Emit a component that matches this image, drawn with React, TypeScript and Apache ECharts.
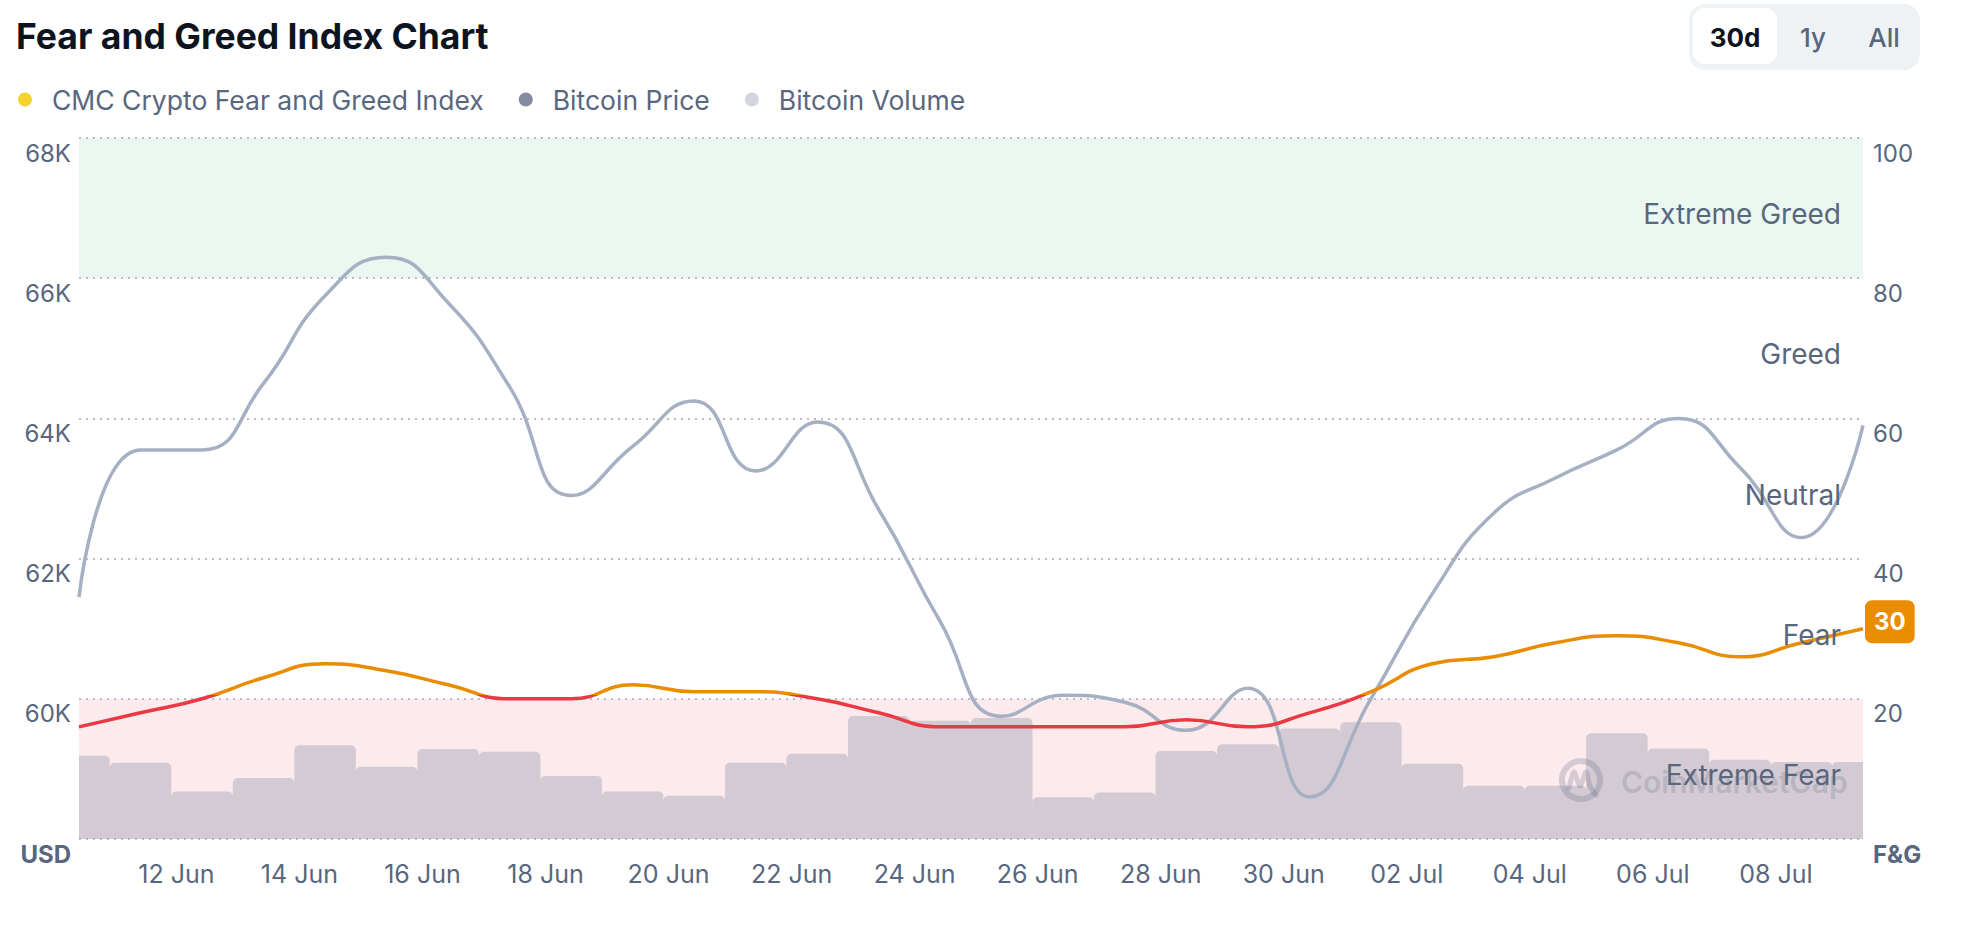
import React, { useEffect, useRef } from 'react';
import * as echarts from 'echarts';

const DATES = [
  '2024-06-10', '2024-06-11', '2024-06-12', '2024-06-13', '2024-06-14', '2024-06-15',
  '2024-06-16', '2024-06-17', '2024-06-18', '2024-06-19', '2024-06-20', '2024-06-21',
  '2024-06-22', '2024-06-23', '2024-06-24', '2024-06-25', '2024-06-26', '2024-06-27',
  '2024-06-28', '2024-06-29', '2024-06-30', '2024-07-01', '2024-07-02', '2024-07-03',
  '2024-07-04', '2024-07-05', '2024-07-06', '2024-07-07', '2024-07-08', '2024-07-09',
];

const FEAR_GREED = [
  16, 18, 20, 23, 25, 24, 22, 20, 20, 22, 21, 21, 20, 18, 16,
  16, 16, 16, 17, 16, 18, 21, 25, 26, 28, 29, 28, 26, 28, 30,
];

const BTC_PRICE = [
  61450, 63550, 63550, 64500, 65750, 66300, 65650, 64450, 62900, 63600,
  64250, 63250, 63950, 62700, 61100, 59750, 60050, 59950, 59550, 60150,
  58600, 60000, 61500, 62650, 63150, 63550, 64000, 63300, 62300, 63900,
];

// billions USD
const BTC_VOLUME = [
  28.5, 26.1, 16.3, 20.9, 32.1, 24.7, 30.8, 29.9, 21.6, 16.3,
  14.8, 26.1, 29.2, 42.1, 40.5, 41.4, 14.3, 15.9, 30.1, 32.4,
  37.8, 40.0, 25.8, 18.2, 18.2, 36.2, 31.0, 27.1, 26.4, 26.4,
];

const X_LABEL_DATES = [
  '2024-06-12', '2024-06-14', '2024-06-16', '2024-06-18', '2024-06-20', '2024-06-22',
  '2024-06-24', '2024-06-26', '2024-06-28', '2024-06-30', '2024-07-02', '2024-07-04',
  '2024-07-06', '2024-07-08',
];

const ZONE_NAMES = ['Extreme Fear', 'Fear', 'Neutral', 'Greed', 'Extreme Greed'];
const ZONE_FROM = [0, 20, 40, 60, 80];
const ZONE_TO = [20, 40, 60, 80, 100];

const LEGEND_NAMES = ['CMC Crypto Fear and Greed Index', 'Bitcoin Price', 'Bitcoin Volume'];
const BUTTONS = ['30d', '1y', 'All'];

const MONTHS = ['Jan', 'Feb', 'Mar', 'Apr', 'May', 'Jun', 'Jul', 'Aug', 'Sep', 'Oct', 'Nov', 'Dec'];

const TEXT = '#58667e';
const FONT = 'Inter';

export default function App() {
  const ref = useRef<HTMLDivElement>(null);

  useEffect(() => {
    if (!ref.current) return;
    const chart = echarts.init(ref.current, null, { renderer: 'svg' });

    const ts = DATES.map((d) => Date.parse(d + 'T10:00:00Z'));
    const labelTs = X_LABEL_DATES.map((d) => Date.parse(d + 'T00:00:00Z'));
    const step = ts[1] - ts[0];
    const fmtDate = (v: number) => {
      const d = new Date(v);
      return String(d.getUTCDate()).padStart(2, '0') + ' ' + MONTHS[d.getUTCMonth()];
    };
    const lastTs = ts[ts.length - 1];

    const renderVolume = (params: any, api: any) => {
      const x = api.value(0);
      const v = api.value(1);
      const top = api.coord([x, v]);
      const base = api.coord([x, 0]);
      const w = api.size([step, 0])[0];
      const cs = params.coordSys;
      let x0 = top[0] - w / 2;
      let x1 = top[0] + w / 2;
      const left = cs.x;
      const right = cs.x + cs.width;
      const clippedL = x0 < left;
      const clippedR = x1 > right;
      x0 = Math.max(x0, left);
      x1 = Math.min(x1, right);
      return {
        type: 'rect',
        shape: {
          x: x0,
          y: top[1],
          width: x1 - x0,
          height: base[1] - top[1],
          r: [clippedL ? 0 : 5, clippedR ? 0 : 5, 0, 0],
        },
        style: { fill: 'rgba(133,140,162,0.34)' },
      };
    };

    const option: any = {
      animation: false,
      textStyle: { fontFamily: FONT },
      title: {
        text: 'Fear and Greed Index Chart',
        left: 16,
        top: 18,
        padding: 0,
        textStyle: { fontSize: 35.5, fontWeight: 700, color: '#0d1421', fontFamily: FONT },
      },
      legend: {
        left: 13,
        top: 81,
        icon: 'circle',
        itemWidth: 14,
        itemHeight: 14,
        itemGap: 35,
        selectedMode: false,
        textStyle: { fontSize: 26.5, color: TEXT, fontFamily: FONT, padding: [0, 0, 0, 15] },
        data: [
          { name: LEGEND_NAMES[0], itemStyle: { color: '#f3d42f' } },
          { name: LEGEND_NAMES[1], itemStyle: { color: '#858ca2' } },
          { name: LEGEND_NAMES[2], itemStyle: { color: '#d1d5e0' } },
        ],
      },
      grid: { left: 79, right: 101, top: 138, bottom: 95, outerBoundsMode: 'none' },
      xAxis: {
        type: 'value',
        min: ts[0],
        max: lastTs,
        axisLine: { show: false },
        axisTick: { show: false },
        splitLine: { show: false },
        axisLabel: {
          customValues: labelTs,
          formatter: fmtDate,
          color: TEXT,
          fontSize: 25,
          margin: 22,
          fontFamily: FONT,
          hideOverlap: false,
        },
      },
      yAxis: [
        {
          type: 'value',
          position: 'left',
          min: 58000,
          max: 68000,
          interval: 2000,
          z: 1.5,
          axisLine: { show: false },
          axisTick: { show: false },
          splitLine: { show: true, lineStyle: { color: '#b9bec8', type: [2, 5], width: 2 } },
          axisLabel: {
            formatter: (v: number) => (v === 58000 ? '{b|USD}' : v / 1000 + 'K'),
            color: TEXT,
            fontSize: 24,
            fontFamily: FONT,
            verticalAlign: 'top',
            margin: 8,
            padding: [3, 0, 0, 0],
            rich: { b: { fontWeight: 700, fontSize: 24, color: TEXT, fontFamily: FONT } },
          },
        },
        {
          type: 'value',
          position: 'right',
          min: 0,
          max: 100,
          interval: 20,
          axisLine: { show: false },
          axisTick: { show: false },
          splitLine: { show: false },
          axisLabel: {
            formatter: (v: number) => (v === 0 ? '{b|F&G}' : String(v)),
            color: TEXT,
            fontSize: 24,
            fontFamily: FONT,
            verticalAlign: 'top',
            margin: 10,
            padding: [3, 0, 0, 0],
            rich: { b: { fontWeight: 700, fontSize: 24, color: TEXT, fontFamily: FONT } },
          },
        },
        { type: 'value', min: 0, max: 240, show: false },
      ],
      visualMap: {
        type: 'piecewise',
        show: false,
        seriesIndex: 2,
        dimension: 1,
        pieces: [
          { lt: 20.5, color: '#ea3943' },
          { gte: 20.5, lt: 40.5, color: '#ea8c00' },
          { gte: 40.5, lt: 60.5, color: '#f3d42f' },
          { gte: 60.5, lt: 80.5, color: '#93d900' },
          { gte: 80.5, color: '#16c784' },
        ],
      },
      series: [
        {
          name: LEGEND_NAMES[2],
          type: 'custom',
          yAxisIndex: 2,
          data: ts.map((t, i) => [t, BTC_VOLUME[i]]),
          renderItem: renderVolume,
          encode: { x: 0, y: 1 },
          clip: true,
          itemStyle: { color: 'rgba(133,140,162,0.34)' },
          z: 2,
          silent: true,
        },
        {
          name: LEGEND_NAMES[1],
          type: 'line',
          yAxisIndex: 0,
          data: ts.map((t, i) => [t, BTC_PRICE[i]]),
          smooth: 0.5,
          showSymbol: false,
          lineStyle: { color: '#a6b0c3', width: 3.5 },
          itemStyle: { color: '#a6b0c3' },
          z: 3,
          silent: true,
        },
        {
          name: LEGEND_NAMES[0],
          type: 'line',
          yAxisIndex: 1,
          data: ts.map((t, i) => [t, FEAR_GREED[i]]),
          smooth: 0.5,
          showSymbol: false,
          lineStyle: { width: 3.5 },
          z: 4,
          silent: true,
          endLabel: {
            show: true,
            formatter: (p: any) => String(p.value[1]),
            distance: 2,
            offset: [0, -7],
            backgroundColor: '#ea8c00',
            color: '#ffffff',
            fontWeight: 700,
            fontSize: 24,
            fontFamily: FONT,
            padding: [10, 9, 9, 9],
            borderRadius: 7,
          },
          markArea: {
            silent: true,
            z: 1,
            data: [
              [{ yAxis: ZONE_FROM[0], itemStyle: { color: '#fdeaed' } }, { yAxis: ZONE_TO[0] }],
              [{ yAxis: ZONE_FROM[4], itemStyle: { color: '#eaf8f1' } }, { yAxis: ZONE_TO[4] }],
            ],
          },
          markPoint: {
            silent: true,
            z: 6,
            symbol: 'circle',
            symbolSize: 0,
            label: {
              show: true,
              position: 'left',
              distance: 22,
              offset: [0, 6],
              formatter: '{b}',
              color: TEXT,
              fontSize: 28,
              fontFamily: FONT,
            },
            data: ZONE_NAMES.map((n, i) => ({
              name: n,
              coord: [lastTs, (ZONE_FROM[i] + ZONE_TO[i]) / 2],
            })),
          },
        },
      ],
      graphic: [
        { type: 'rect', z: 10, shape: { x: 1689, y: 4, width: 231, height: 66, r: 16 }, style: { fill: '#eff2f5' } },
        { type: 'rect', z: 11, shape: { x: 1693, y: 8, width: 84, height: 56, r: 12 }, style: { fill: '#ffffff' } },
        { type: 'text', z: 12, x: 1735, y: 37, style: { text: BUTTONS[0], fill: '#0d1421', fontSize: 26, fontWeight: 700, fontFamily: FONT, align: 'center', verticalAlign: 'middle' } },
        { type: 'text', z: 12, x: 1813, y: 37, style: { text: BUTTONS[1], fill: TEXT, fontSize: 26, fontWeight: 500, fontFamily: FONT, align: 'center', verticalAlign: 'middle' } },
        { type: 'text', z: 12, x: 1884, y: 37, style: { text: BUTTONS[2], fill: TEXT, fontSize: 26, fontWeight: 500, fontFamily: FONT, align: 'center', verticalAlign: 'middle' } },
        {
          type: 'arc', z: 3, silent: true,
          shape: { cx: 1581, cy: 780, r: 19, startAngle: 0.9, endAngle: 6.95, clockwise: true },
          style: { stroke: 'rgba(88,102,126,0.24)', lineWidth: 6, fill: 'none', lineCap: 'round' },
        },
        {
          type: 'polyline', z: 3, silent: true,
          shape: { points: [[1569, 788], [1574, 772], [1580, 786], [1586, 772], [1590, 786], [1596, 795]], smooth: 0.3 },
          style: { stroke: 'rgba(88,102,126,0.24)', lineWidth: 5, fill: 'none', lineCap: 'round', lineJoin: 'round' },
        },
        {
          type: 'text', z: 3, silent: true, x: 1621, y: 782,
          style: { text: 'CoinMarketCap', fill: 'rgba(88,102,126,0.24)', fontSize: 30, fontWeight: 600, fontFamily: FONT, align: 'left', verticalAlign: 'middle' },
        },
      ],
    };

    chart.setOption(option);
    return () => chart.dispose();
  }, []);

  return (
    <div
      ref={ref}
      style={{ position: 'absolute', left: 0, top: 0, width: 1964, height: 934, background: '#ffffff' }}
    />
  );
}
